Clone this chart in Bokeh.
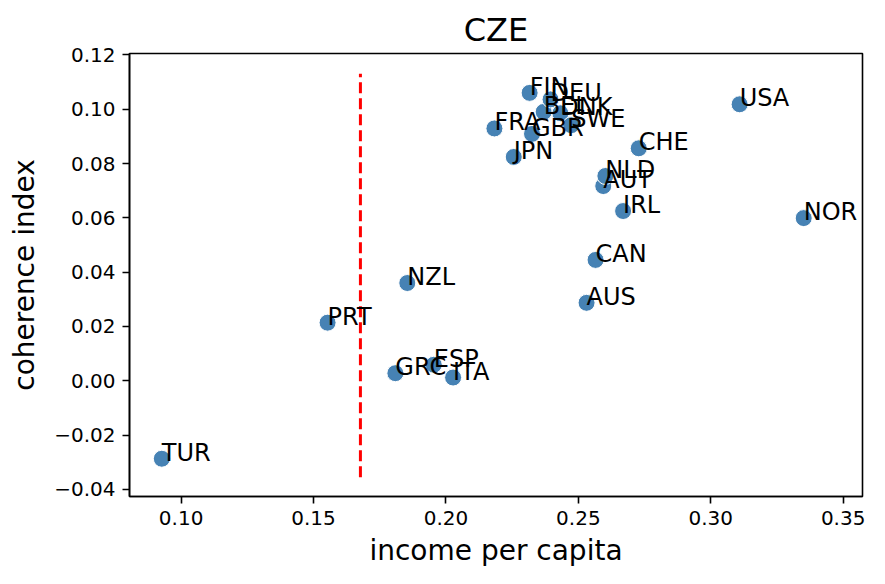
from bokeh.plotting import figure
from bokeh.models import ColumnDataSource, FixedTicker, CustomJSTickFormatter, Range1d
from bokeh.core.properties import value
from bokeh.embed import file_html
from bokeh.resources import INLINE

# Country codes with their income per capita and coherence index
countries = ["TUR", "PRT", "GRC", "ESP", "ITA", "NZL", "FRA", "JPN", "GBR", "FIN", "BEL",
             "DEU", "DNK", "SWE", "AUS", "CAN", "AUT", "NLD", "IRL", "CHE", "USA", "NOR"]
income = [0.0927, 0.1553, 0.1809, 0.1954, 0.2027, 0.1854, 0.2183, 0.2256, 0.2325, 0.2316, 0.2369,
          0.2395, 0.2432, 0.2473, 0.2531, 0.2565, 0.2594, 0.2602, 0.2669, 0.2728, 0.3109, 0.3351]
coherence = [-0.0287, 0.0214, 0.0028, 0.0059, 0.0012, 0.0360, 0.0929, 0.0824, 0.0909, 0.1060, 0.0990,
             0.1036, 0.0985, 0.0941, 0.0287, 0.0445, 0.0717, 0.0754, 0.0625, 0.0856, 0.1018, 0.0599]

# Reference income level (CZE) drawn as a dashed vertical line
cutoff_income = [0.1677]
cutoff_low = [-0.0355]
cutoff_high = [0.1130]

x_ticks = [0.10, 0.15, 0.20, 0.25, 0.30, 0.35]
y_ticks = [-0.04, -0.02, 0.00, 0.02, 0.04, 0.06, 0.08, 0.10, 0.12]

FONT = "DejaVu Sans"

src = ColumnDataSource(dict(x=income, y=coherence, name=countries))
line_src = ColumnDataSource(dict(x=cutoff_income, y0=cutoff_low, y1=cutoff_high))

p = figure(width=885, height=584, output_backend="svg", toolbar_location=None,
           x_range=Range1d(0.0805, 0.3573), y_range=Range1d(-0.0426, 0.1205),
           min_border_left=129, min_border_right=23, min_border_top=53, min_border_bottom=88,
           title="CZE")

p.title.text_font = FONT
p.title.text_font_size = "32px"
p.title.text_font_style = "normal"
p.title.align = "center"
p.title.text_color = "black"

p.xgrid.visible = False
p.ygrid.visible = False
p.outline_line_color = "black"
p.outline_line_width = 1.6
p.background_fill_color = "white"
p.border_fill_color = "white"

fmt = CustomJSTickFormatter(code="""
    const s = Math.abs(tick).toFixed(2);
    return (tick < -1e-9 ? "\u2212" : "") + s;
""")

for ax, ticks, label in ((p.xaxis[0], x_ticks, "income per capita"),
                         (p.yaxis[0], y_ticks, "coherence index")):
    ax.ticker = FixedTicker(ticks=ticks)
    ax.formatter = fmt
    ax.axis_label = label
    ax.axis_label_text_font = FONT
    ax.axis_label_text_font_size = "28px"
    ax.axis_label_text_font_style = "normal"
    ax.axis_label_text_color = "black"
    ax.major_label_text_font = FONT
    ax.major_label_text_font_size = "20px"
    ax.major_label_text_color = "black"
    ax.major_tick_out = 7
    ax.major_tick_in = 0
    ax.major_tick_line_width = 1.6
    ax.minor_tick_out = 0
    ax.minor_tick_in = 0
    ax.axis_line_width = 1.6
    ax.major_label_standoff = 7

p.xaxis[0].axis_label_standoff = 6
p.yaxis[0].axis_label_standoff = 10

p.scatter("x", "y", source=src, size=17, fill_color="#4682b4",
          line_color="white", line_width=1)

p.segment(x0="x", y0="y0", x1="x", y1="y1", source=line_src,
          line_color="red", line_width=3, line_dash="11 5")

p.text("x", "y", text="name", source=src, text_font=value(FONT), text_font_size="24px",
       text_align="left", text_baseline="alphabetic", text_color="black", y_offset=-6)

open("out.html", "w").write(file_html(p, INLINE))
